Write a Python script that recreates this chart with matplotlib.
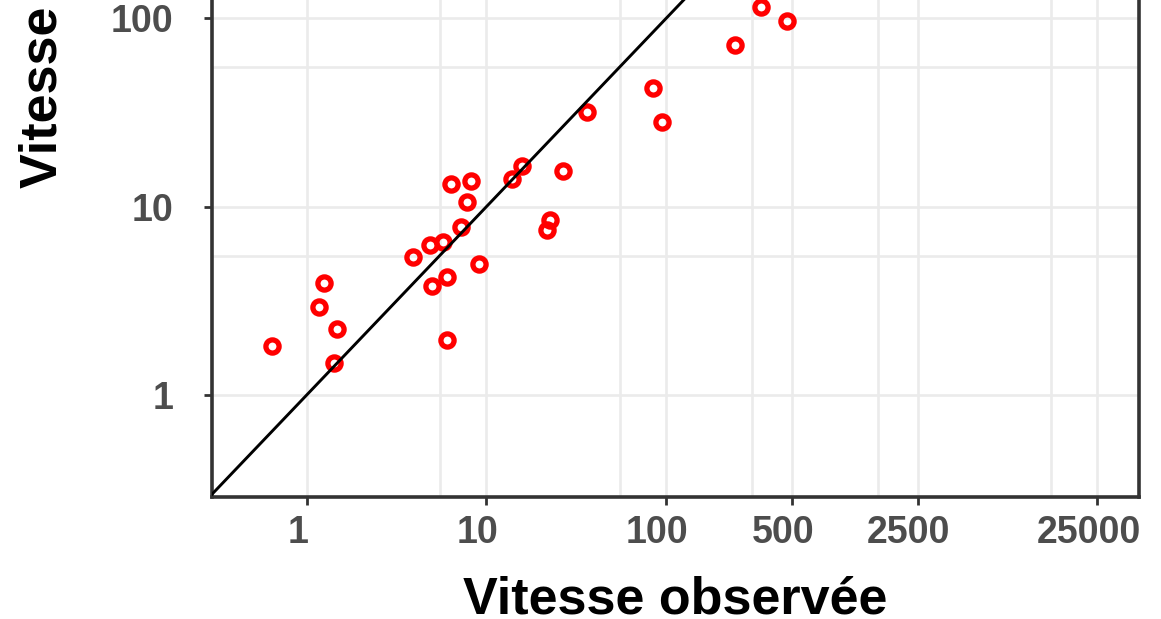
import matplotlib
matplotlib.use("Agg")
import matplotlib.pyplot as plt
import matplotlib.transforms as mtransforms
import numpy as np

# Data (observed vs predicted speed)
observed = [0.64, 1.17, 1.25, 1.47, 1.41, 3.88, 4.88, 5.74, 4.95, 6.05, 6.01,
            6.32, 8.17, 7.77, 7.25, 9.06, 13.8, 15.7, 22.6, 21.6, 26.5, 36.1,
            84.7, 94.3, 240, 335, 467]
predicted = [1.83, 2.93, 3.95, 2.23, 1.48, 5.40, 6.24, 6.45, 3.79, 4.21, 1.95,
             13.2, 13.7, 10.6, 7.77, 4.97, 14.0, 16.5, 8.54, 7.55, 15.5, 31.9,
             42.5, 28.0, 72.1, 115, 97.0]
x_ticks = [1, 10, 100, 500, 2500, 25000]
x_minor = [5.5, 55, 300, 1500, 13750]
y_ticks = [1, 10, 100, 1000]
y_minor = [5.5, 55, 550]
x_label = "Vitesse observée"
y_label = "Vitesse prédite"

W, H = 1161, 619
DPI = 100
plt.rcParams['font.family'] = ['Liberation Sans', 'DejaVu Sans']
fig = plt.figure(figsize=(W / DPI, H / DPI), dpi=DPI)

xlim = (0.2962, 42580)
ylim = (0.2885, 3000)
px_per_dec_y = 188.4
left_px, right_px, bottom_px = 211.7, 1139.0, 496.7
height_px = (np.log10(ylim[1]) - np.log10(ylim[0])) * px_per_dec_y
ax = fig.add_axes([left_px / W, 1 - bottom_px / H,
                   (right_px - left_px) / W, height_px / H])
ax.set_xscale('log')
ax.set_yscale('log')

grid_c = '#EBEBEB'
for v in x_ticks + x_minor:
    ax.axvline(v, color=grid_c, lw=1.9, zorder=0)
for v in y_ticks + y_minor:
    ax.axhline(v, color=grid_c, lw=1.9, zorder=0)

ax.plot(observed, predicted, linestyle='none', marker='o', markersize=9.5,
        markerfacecolor='none', markeredgecolor='#FF0000',
        markeredgewidth=3.8, zorder=2)
ax.plot(xlim, xlim, color='black', lw=2.1, zorder=3)

ax.set_xticks(x_ticks)
ax.set_xticklabels([str(t) for t in x_ticks])
ax.set_yticks(y_ticks)
ax.set_yticklabels([str(t) for t in y_ticks])
ax.xaxis.set_minor_locator(matplotlib.ticker.NullLocator())
ax.yaxis.set_minor_locator(matplotlib.ticker.NullLocator())
ax.set_xlim(*xlim)
ax.set_ylim(*ylim)

for s in ax.spines.values():
    s.set_color('#333333')
    s.set_linewidth(2.6)

ax.tick_params(axis='both', which='major', length=5.5, width=2.0,
               color='#333333', labelcolor='#4D4D4D', labelsize=27)
ax.tick_params(axis='x', pad=8)
ax.tick_params(axis='y', pad=22)
shift = mtransforms.ScaledTranslation(-9 / DPI, 0, fig.dpi_scale_trans)
for lab in ax.get_xticklabels():
    lab.set_fontweight('bold')
    lab.set_transform(lab.get_transform() + shift)
for lab in ax.get_yticklabels():
    lab.set_fontweight('bold')

fig.text(675 / W, 1 - 614 / H, x_label, ha='center', va='baseline',
         fontsize=37.5, fontweight='bold', color='black')
fig.text(44 / W, 1 - 188 / H, y_label, ha='center', va='bottom',
         rotation=90, fontsize=37.5, fontweight='bold', color='black')

fig.savefig('out.png', dpi=DPI)
